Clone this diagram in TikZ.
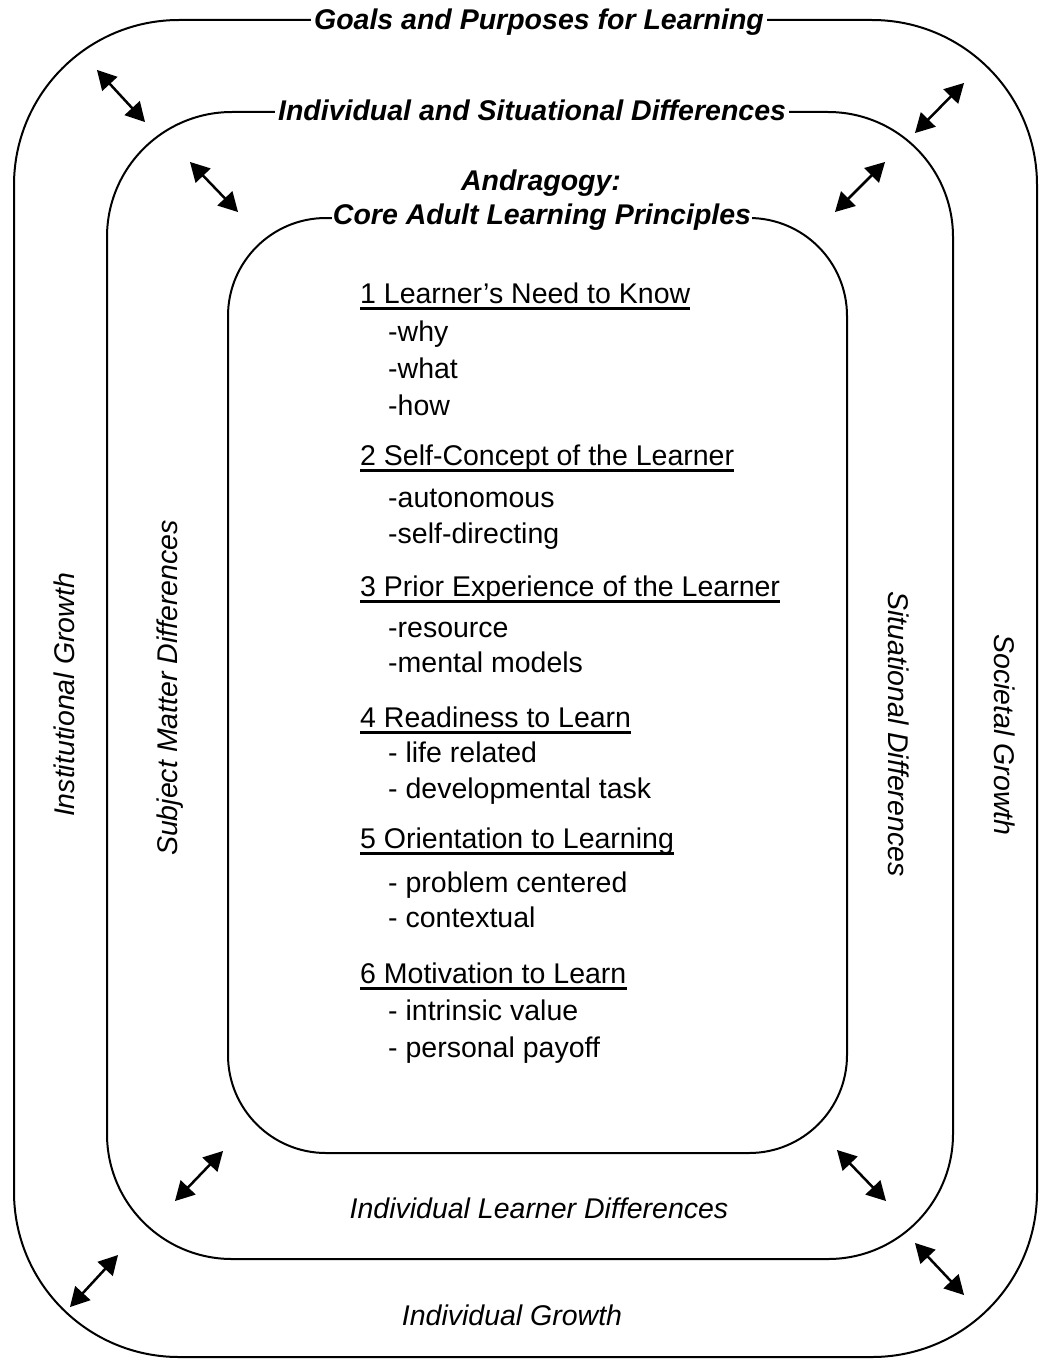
\documentclass[tikz,border=0pt]{standalone}
\usepackage{fontspec}
\setmainfont{Liberation Sans}
\usetikzlibrary{calc}
\tikzset{
  frame/.style={line width=2pt},
  title/.style={font=\fontsize{28.5}{32}\selectfont\bfseries\itshape, fill=white, inner sep=3pt},
  side/.style={font=\fontsize{28.5}{32}\selectfont\itshape, inner sep=0pt},
  head/.style={font=\fontsize{28.5}{33}\selectfont, anchor=base west, inner sep=0pt},
  item/.style={font=\fontsize{28.5}{33}\selectfont, anchor=base west, inner sep=0pt},
  ul/.style={line width=3pt},
  shaft/.style={line width=2.5pt}
}
\begin{document}
\begin{tikzpicture}[x=1pt,y=-1pt]
\useasboundingbox (0,0) rectangle (1039,1359);
% the three frames
\draw[frame, rounded corners=165pt] (14,20) rectangle (1037,1357);
\draw[frame, rounded corners=125pt] (107,112) rectangle (953,1259);
\draw[frame, rounded corners=98pt] (228,218) rectangle (847,1153);
% frame titles
\node[title] (goals) at (539,22) {Goals and Purposes for Learning};
\node[title] (diffs) at (532,110) {Individual and Situational Differences};
\node[title, fill=none] (andra) at (541,183) {Andragogy:};
\node[title, inner sep=1pt] (core) at (542,217) {Core Adult Learning Principles};
% side labels
\node[side, rotate=90] (inst) at (64,695) {Institutional Growth};
\node[side, rotate=90] (subj) at (170,688) {Subject Matter Differences};
\node[side, rotate=-90] (situ) at (899,734) {Situational Differences};
\node[side, rotate=-90] (soci) at (1005,735) {Societal Growth};
\node[side] (lrnr) at (539,1208) {Individual Learner Differences};
\node[side] (grow) at (512,1315) {Individual Growth};
% principles
\foreach \n/\y/\t in {1/303/{1 Learner's Need to Know}, 2/465/{2 Self-Concept of the Learner},
    3/596/{3 Prior Experience of the Learner}, 4/727/{4 Readiness to Learn},
    5/848/{5 Orientation to Learning}, 6/983/{6 Motivation to Learn}}{
  \node[head] (h\n) at (360,\y) {\t};
  \draw[ul] ([yshift=-5pt]h\n.base west) -- ([yshift=-5pt]h\n.base east);
}
\foreach \n/\y/\t in {1/341/-why, 2/378/-what, 3/415/-how, 4/507/-autonomous, 5/543/-self-directing,
    6/637/-resource, 7/672/-mental models, 8/762/- life related, 9/798/- developmental task,
    10/892/- problem centered, 11/927/- contextual, 12/1020/- intrinsic value, 13/1057/- personal payoff}{
  \node[item] (i\n) at (388,\y) {\t};
}
% two-way arrows between the frames
\foreach \n/\xa/\ya/\xb/\yb in {1/97/70/145/122, 2/190/162/238/212, 3/964/83/915/133, 4/885/162/835/212,
    5/223/1151/175/1201, 6/118/1255/70/1307, 7/837/1150/886/1201, 8/915/1243/964/1295}{
  \coordinate (p\n) at (\xa,\ya);
  \coordinate (q\n) at (\xb,\yb);
  \coordinate (pb\n) at ($(p\n)!19pt!(q\n)$);
  \coordinate (qb\n) at ($(q\n)!19pt!(p\n)$);
  \draw[shaft] ($(p\n)!14pt!(q\n)$) -- ($(q\n)!14pt!(p\n)$);
  \fill (p\n) -- ($(pb\n)!10.5pt!90:(q\n)$) -- ($(pb\n)!10.5pt!-90:(q\n)$) -- cycle;
  \fill (q\n) -- ($(qb\n)!10.5pt!90:(p\n)$) -- ($(qb\n)!10.5pt!-90:(p\n)$) -- cycle;
}
\end{tikzpicture}
\end{document}
